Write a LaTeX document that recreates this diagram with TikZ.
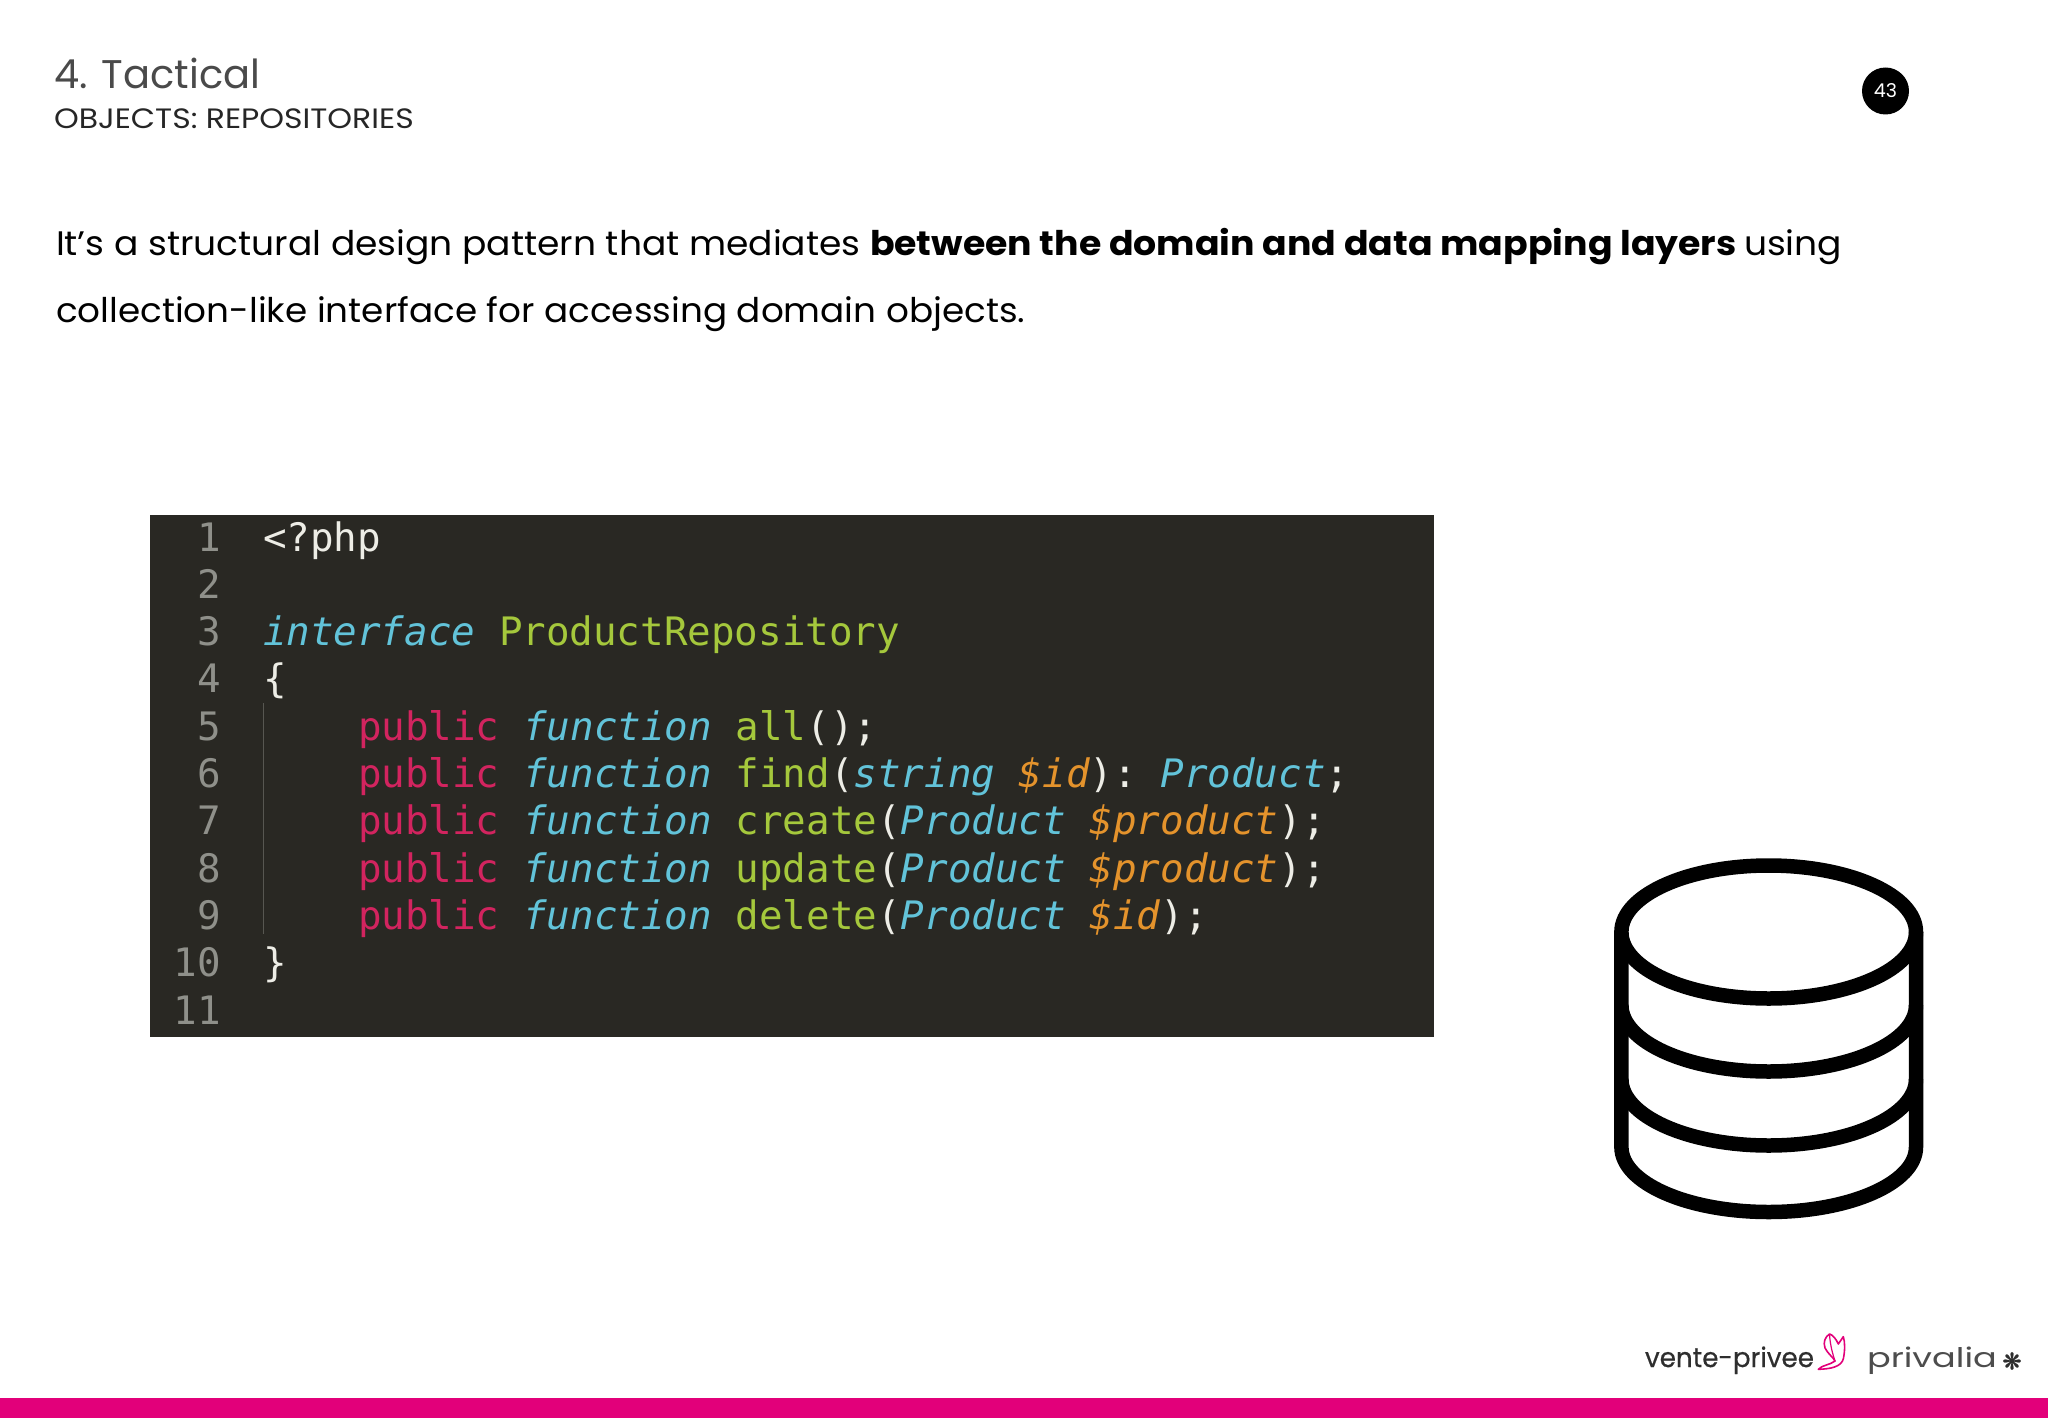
\documentclass[tikz,border=0pt]{standalone}
\usepackage{fontspec}
\usepackage{graphicx}
\setmainfont{Poppins}
\setmonofont{DejaVu Sans Mono}
\newfontfamily\dejavu[FakeBold=1]{DejaVu Sans}
\newfontfamily\logofont[FakeBold=0.5]{Poppins}
\definecolor{pinkband}{HTML}{E2007A}
\definecolor{codebg}{HTML}{292823}
\definecolor{lnum}{HTML}{8F908A}
\definecolor{cplain}{HTML}{EDEDE6}
\definecolor{cblue}{HTML}{62C3D9}
\definecolor{cgreen}{HTML}{A5C83C}
\definecolor{cpink}{HTML}{D2245F}
\definecolor{corange}{HTML}{E4932C}
\definecolor{titlegray}{HTML}{4A4A4A}
\definecolor{logogray}{HTML}{2E2E2E}
\newcommand{\cpl}[1]{\textcolor{cplain}{#1}}
\newcommand{\cbl}[1]{\textcolor{cblue}{\itshape #1}}
\newcommand{\cgr}[1]{\textcolor{cgreen}{#1}}
\newcommand{\cpi}[1]{\textcolor{cpink}{#1}}
\newcommand{\cor}[1]{\textcolor{corange}{\itshape #1}}
\newcommand{\pubfn}{\cpi{public} \cbl{function} }
\newcommand{\wide}[2][1.06]{\scalebox{#1}[1]{#2}}
\tikzset{
  txt/.style={inner sep=0pt,outer sep=0pt,anchor=base west},
  bodytext/.style={txt,text=black,font=\fontsize{34}{34}\selectfont},
  codeline/.style={txt,font=\fontsize{39.2}{40}\selectfont\ttfamily},
  linenum/.style={inner sep=0pt,outer sep=0pt,anchor=base east,text=lnum,font=\fontsize{39.2}{40}\selectfont\ttfamily},
  dbline/.style={draw=black,line width=14.5pt,line join=round,line cap=butt},
}
\begin{document}
\begin{tikzpicture}[x=1pt,y=-1pt]
\useasboundingbox (0,0) rectangle (2048,1418);
\fill[white] (0,0) rectangle (2048,1418);
% header
\node[txt,text=titlegray,font=\fontsize{40}{40}\selectfont] (title) at (54,89) {4. Tactical};
\node[txt,text=black!85,font=\fontsize{28}{28}\selectfont] (sub) at (54,128.5) {\scalebox{1.125}[1]{OBJECTS: REPOSITORIES}};
\node[circle,fill=black,minimum size=47pt,inner sep=0pt,text=white,font=\fontsize{19}{19}\selectfont] (page) at (1885.5,91) {43};
% body
\node[bodytext] (b1) at (56,255.5) {\wide{It’s a structural design pattern that mediates}};
\node[bodytext,font=\fontsize{34}{34}\selectfont\bfseries] (b2) at (870,255.5) {\wide[1.067]{between the domain and data mapping layers}};
\node[bodytext] (b3) at (1744,255.5) {\wide{using}};
\node[bodytext] (b4) at (56,322.5) {\wide[1.052]{collection-like interface for accessing domain objects.}};
% code box
\fill[codebg] (150.2,514.6) rectangle (1434,1037);
\draw[lnum!45!codebg,line width=1pt] (263.5,703) -- (263.5,934);
\foreach \n [count=\i from 0] in {1,...,11}{
  \node[linenum] (n\n) at (221,551+47.3*\i) {\n};
}
\node[codeline] (c1) at (263,551) {\cpl{<?php}};
\node[codeline] (c3) at (263,645.6) {\cbl{interface} \cgr{ProductRepository}};
\node[codeline] (c4) at (263,692.9) {\cpl{\{}};
\node[codeline] (c5) at (358,740.2) {\pubfn\cgr{all}\cpl{();}};
\node[codeline] (c6) at (358,787.5) {\pubfn\cgr{find}\cpl{(}\cbl{string} \cor{\$id}\cpl{):} \cbl{Product}\cpl{;}};
\node[codeline] (c7) at (358,834.8) {\pubfn\cgr{create}\cpl{(}\cbl{Product} \cor{\$product}\cpl{);}};
\node[codeline] (c8) at (358,882.1) {\pubfn\cgr{update}\cpl{(}\cbl{Product} \cor{\$product}\cpl{);}};
\node[codeline] (c9) at (358,929.4) {\pubfn\cgr{delete}\cpl{(}\cbl{Product} \cor{\$id}\cpl{);}};
\node[codeline] (c10) at (263,976.7) {\cpl{\}}};
% database icon
\draw[dbline] (1768.7,932) ellipse [x radius=147.3,y radius=66.5];
\draw[dbline] (1621.4,932) -- (1621.4,1147) arc[start angle=180,end angle=360,x radius=147.3,y radius=-65] -- (1916,932);
\draw[dbline] (1621.4,1005) arc[start angle=180,end angle=360,x radius=147.3,y radius=-66.5];
\draw[dbline] (1621.4,1079) arc[start angle=180,end angle=360,x radius=147.3,y radius=-66.5];
% logos
\node[txt,text=logogray,font=\logofont\fontsize{27}{27}\selectfont] (lv) at (1645,1367) {\scalebox{.97}[1]{vente-privee}};
\draw[pinkband,line width=1.6pt,line join=round,fill=white]
  (1818.3,1369.3) .. controls (1830,1369) and (1842,1367) .. (1843.5,1358)
  .. controls (1845,1350) and (1845,1342) .. (1843.3,1336.7)
  -- (1838.3,1344) .. controls (1836,1339) and (1833,1335) .. (1829.5,1334)
  .. controls (1825,1337) and (1823,1342) .. (1825,1348)
  .. controls (1828,1354) and (1833,1357) .. (1835,1361)
  .. controls (1830,1365) and (1822,1365) .. (1818.3,1369.3) -- cycle;
\draw[pinkband,line width=1.2pt] (1829.5,1334) .. controls (1830,1345) and (1833,1355) .. (1835,1361);
\node[txt,text=logogray!85,font=\fontsize{27}{27}\selectfont] (lp) at (1867,1367) {\scalebox{1.3}[1]{privalia}};
\node[inner sep=0pt,text=logogray,font=\dejavu\fontsize{23}{23}\selectfont] (la) at (2012,1361) {❋};
% band
\fill[pinkband] (0,1398) rectangle (2048,1418);
\end{tikzpicture}
\end{document}
